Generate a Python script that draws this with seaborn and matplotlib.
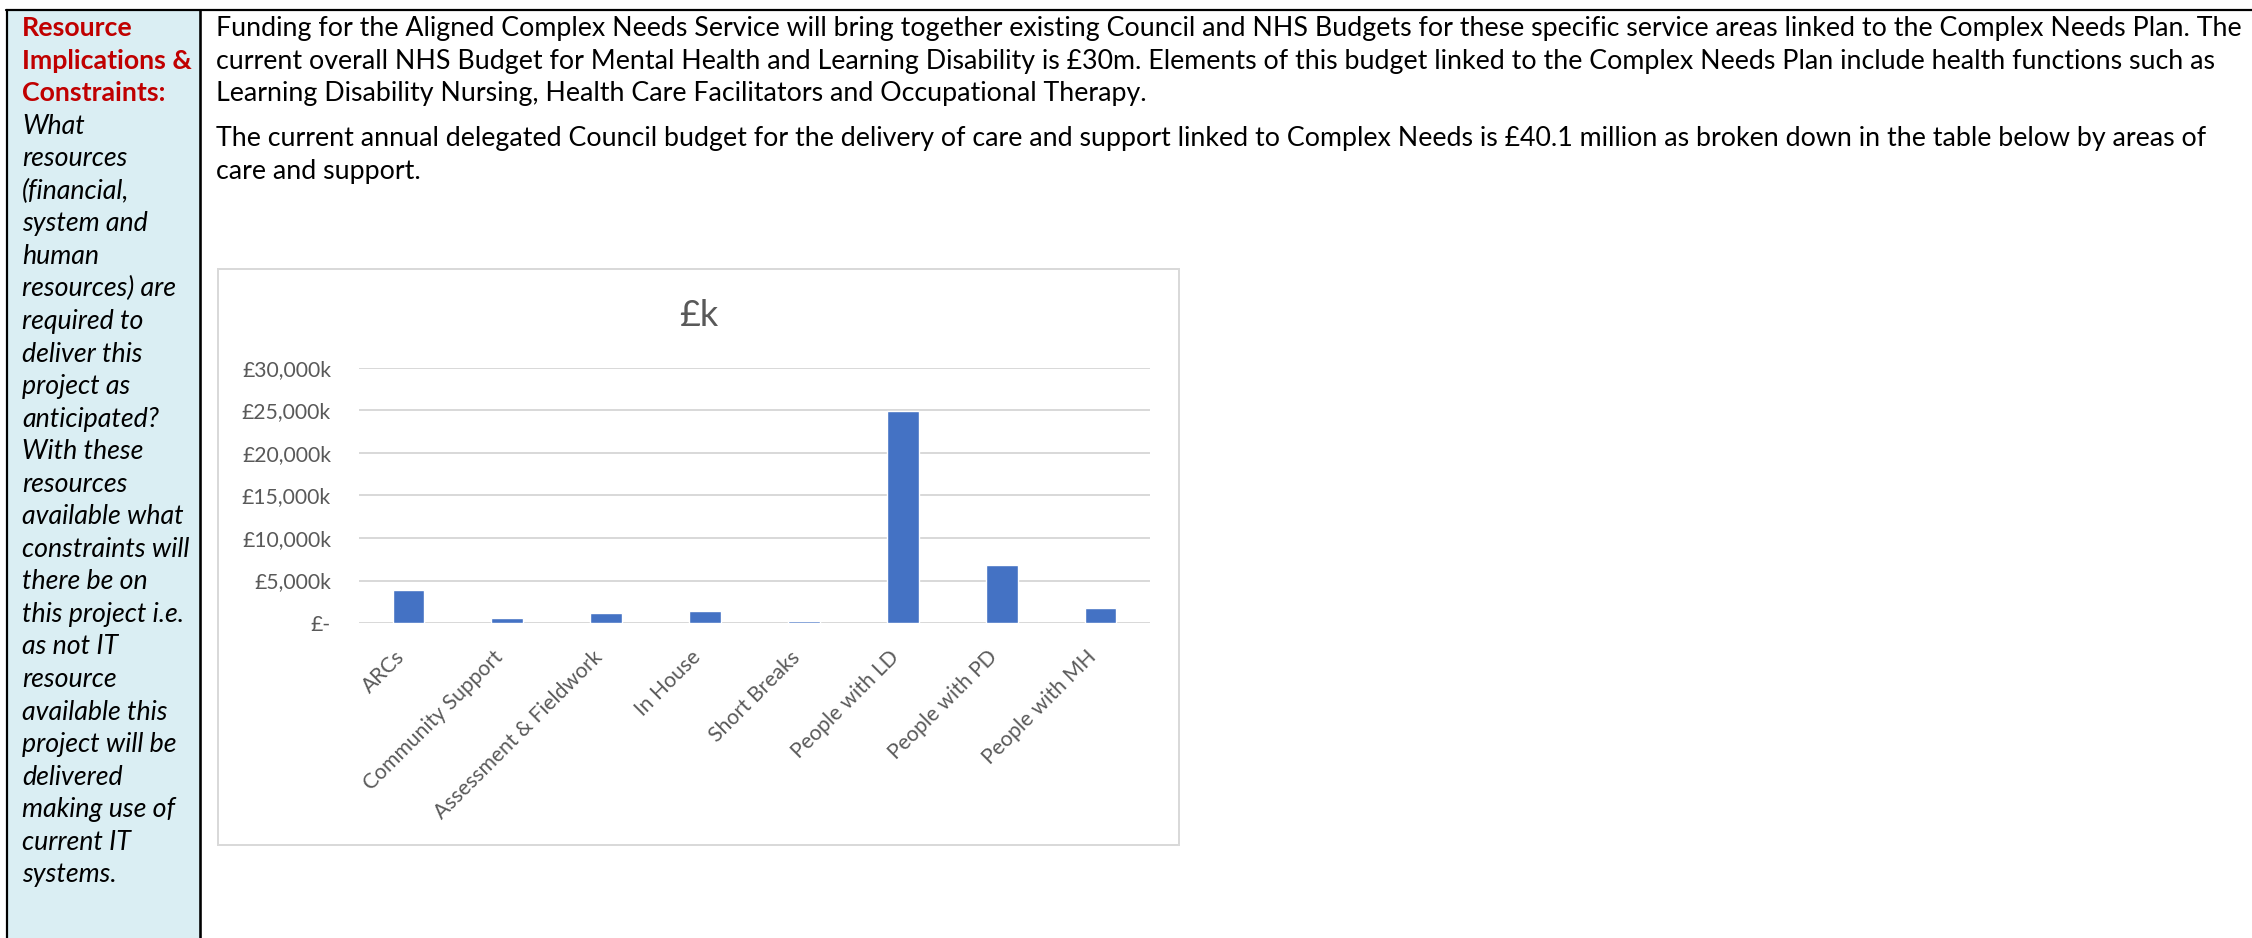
import matplotlib
matplotlib.use("Agg")
import matplotlib.pyplot as plt
import seaborn as sns
import pandas as pd
from matplotlib.patches import Rectangle
from matplotlib.lines import Line2D

# ---------------- data ----------------
categories = ["ARCs", "Community Support", "Assessment & Fieldwork", "In House",
              "Short Breaks", "People with LD", "People with PD", "People with MH"]
budget_k = [3850, 530, 1120, 1370, 280, 24900, 6780, 1760]
y_ticks = [0, 5000, 10000, 15000, 20000, 25000, 30000]
y_tick_labels = ["£-", "£5,000k", "£10,000k", "£15,000k", "£20,000k", "£25,000k", "£30,000k"]
chart_title = "£k"

side_heading = ["Resource", "Implications &", "Constraints:"]
side_question = ["What", "resources", "(financial,", "system and", "human",
                 "resources) are", "required to", "deliver this", "project as",
                 "anticipated?", "With these", "resources", "available what",
                 "constraints will", "there be on", "this project i.e.", "as not IT",
                 "resource", "available this", "project will be", "delivered",
                 "making use of", "current IT", "systems."]
para1 = ["Funding for the Aligned Complex Needs Service will bring together existing Council and NHS Budgets for these specific service areas linked to the Complex Needs Plan. The",
         "current overall NHS Budget for Mental Health and Learning Disability is £30m. Elements of this budget linked to the Complex Needs Plan include health functions such as",
         "Learning Disability Nursing, Health Care Facilitators and Occupational Therapy."]
para2 = ["The current annual delegated Council budget for the delivery of care and support linked to Complex Needs is £40.1 million as broken down in the table below by areas of",
         "care and support."]

# ---------------- figure ----------------
sns.set_style("white")
plt.rcParams["font.family"] = ["Lato", "DejaVu Sans"]

W, H = 2252, 938
fig = plt.figure(figsize=(W / 100, H / 100), dpi=100)
fig.patch.set_facecolor("white")


def fx(x):
    return x / W


def fy(y):
    return 1 - y / H


def px2pt(p):
    return p * 72 / 100


# left column background
fig.patches.append(Rectangle((fx(7), fy(938)), fx(200) - fx(7), fy(10) - fy(938),
                             transform=fig.transFigure, facecolor="#DAEEF3",
                             edgecolor="none", zorder=0))
# table borders
for (x0, y0, x1, y1, lw) in [(6, 10, 2252, 10, 2.2), (7, 10, 7, 938, 2.2),
                             (200, 10, 200, 938, 2.6)]:
    fig.lines.append(Line2D([fx(x0), fx(x1)], [fy(y0), fy(y1)],
                            transform=fig.transFigure, color="black",
                            lw=px2pt(lw), zorder=5))

# chart area box
fig.patches.append(Rectangle((fx(218), fy(845)), fx(1179) - fx(218), fy(269) - fy(845),
                             transform=fig.transFigure, facecolor="white",
                             edgecolor="#D9D9D9", lw=px2pt(2), zorder=1))

renderer = fig.canvas.get_renderer()

# body text
base_fs = px2pt(26)
body_texts = []
baselines = [36, 68.6, 101.2, 146, 178.6]
for line, yb in zip(para1 + para2, baselines):
    t = fig.text(fx(216), fy(yb), line, fontsize=base_fs, color="black",
                 va="baseline", ha="left")
    body_texts.append(t)
w0 = body_texts[0].get_window_extent(renderer).width
scale = (2238 - 216) / w0
body_fs = base_fs * scale
for t in body_texts:
    t.set_fontsize(body_fs)

# side column text
y = 36
for line in side_heading:
    fig.text(fx(22), fy(y), line, fontsize=body_fs, color="#C00000",
             fontweight="bold", va="baseline", ha="left")
    y += 32.55
for line in side_question:
    fig.text(fx(22), fy(y), line, fontsize=body_fs, color="black",
             fontstyle="italic", va="baseline", ha="left")
    y += 32.55

# ---------------- chart ----------------
df = pd.DataFrame({"category": categories, "value": budget_k})
ax = fig.add_axes([fx(359), fy(623), fx(1150) - fx(359), fy(368) - fy(623)])
ax.set_zorder(3)
ax.patch.set_alpha(0)
sns.barplot(data=df, x="category", y="value", order=categories, color="#4472C4",
            saturation=1, width=0.32, ax=ax, zorder=3)
ax.set_xlim(-0.5, len(categories) - 0.5)
ax.set_ylim(0, 30000)
ax.set_yticks(y_ticks)
ax.set_yticklabels(y_tick_labels)
ax.yaxis.grid(True, color="#D9D9D9", lw=px2pt(2))
ax.set_axisbelow(True)
for s in ax.spines.values():
    s.set_visible(False)
ax.set_xlabel("")
ax.set_ylabel("")
tick_fs = px2pt(23)
ax.tick_params(axis="both", length=0, colors="#595959", labelsize=tick_fs)
ax.tick_params(axis="y", pad=px2pt(28))
ax.tick_params(axis="x", pad=px2pt(24))
for lab in ax.get_xticklabels():
    lab.set_rotation(45)
    lab.set_ha("right")
    lab.set_va("top")

fig.canvas.draw()
lab30 = ax.get_yticklabels()[-1]
wl = lab30.get_window_extent(renderer).width
tick_fs2 = tick_fs * 89 / wl
ax.tick_params(axis="both", labelsize=tick_fs2)

fig.text(fx(698.5), fy(315), chart_title, fontsize=px2pt(36), color="#595959",
         ha="center", va="center")

fig.savefig("out.png", dpi=100, facecolor="white")
